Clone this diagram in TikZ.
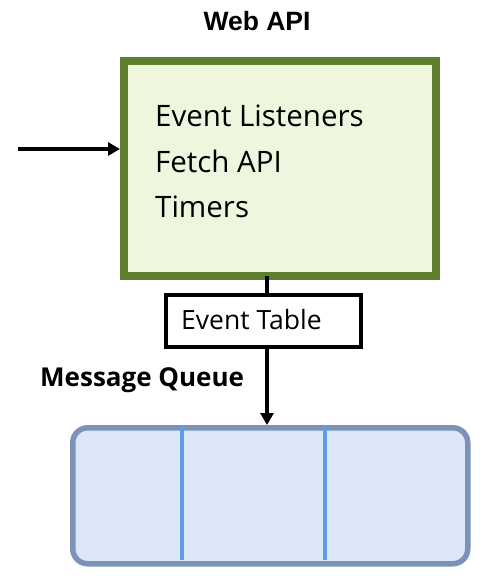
\documentclass[tikz,border=0pt]{standalone}
\usepackage{fontspec}
\setmainfont{Open Sans}
\newfontfamily\arialfont{Liberation Sans}
\usetikzlibrary{arrows.meta}
\definecolor{apigreen}{HTML}{5F7F2C}
\definecolor{apifill}{HTML}{EEF6DE}
\definecolor{qborder}{HTML}{7C93B8}
\definecolor{qfill}{HTML}{DBE7F8}
\definecolor{qdiv}{HTML}{5E9DE2}
\tikzset{
  arr/.style={line width=3.4pt,-{Triangle[length=12pt,width=13pt]}},
  title/.style={font=\fontsize{26}{30}\selectfont\bfseries, inner sep=0pt},
  item/.style={anchor=base west, inner sep=0pt, font=\fontsize{29.5}{34}\selectfont},
}
\begin{document}
\begin{tikzpicture}[x=1pt,y=-1pt]
\useasboundingbox[fill=white] (0,0) rectangle (498,580);
% Web API box
\node[draw=apigreen, fill=apifill, line width=8pt, minimum width=312pt, minimum height=215pt, anchor=north west, inner sep=0pt] (api) at (120,57) {};
\node[title, font=\arialfont\fontsize{26.5}{30}\selectfont\bfseries, anchor=base] (apititle) at (257,31) {Web API};
\node[item] (l1) at (155,127) {Event Listeners};
\node[item] (l2) at (155,172) {Fetch API};
\node[item] (l3) at (155,217) {Timers};
% incoming arrow
\coordinate (src) at (18,149);
\draw[arr] (src) -- (api.west |- src);
% Event table
\node[draw=black, line width=3.6pt, minimum width=195pt, minimum height=52pt, anchor=north west, inner sep=0pt] (et) at (164,293) {};
\node[anchor=base west, inner sep=0pt, font=\fontsize{26.5}{30}\selectfont] (ettext) at (181,329) {Event Table};
\draw[line width=3.4pt] (267,276) -- (et.north -| 267,0);
% Message queue
\node[title, anchor=base west] (mqtitle) at (40,386) {Message Queue};
\node[draw=qborder, fill=qfill, line width=5.5pt, rounded corners=15pt, minimum width=395pt, minimum height=136pt, anchor=north west, inner sep=0pt] (mq) at (70,425) {};
\draw[qdiv, line width=3.2pt] (182,426) -- (182,560);
\draw[qdiv, line width=3.2pt] (325,426) -- (325,560);
\draw[arr] (et.south -| 267,0) -- (mq.north -| 267,0);
\end{tikzpicture}
\end{document}
